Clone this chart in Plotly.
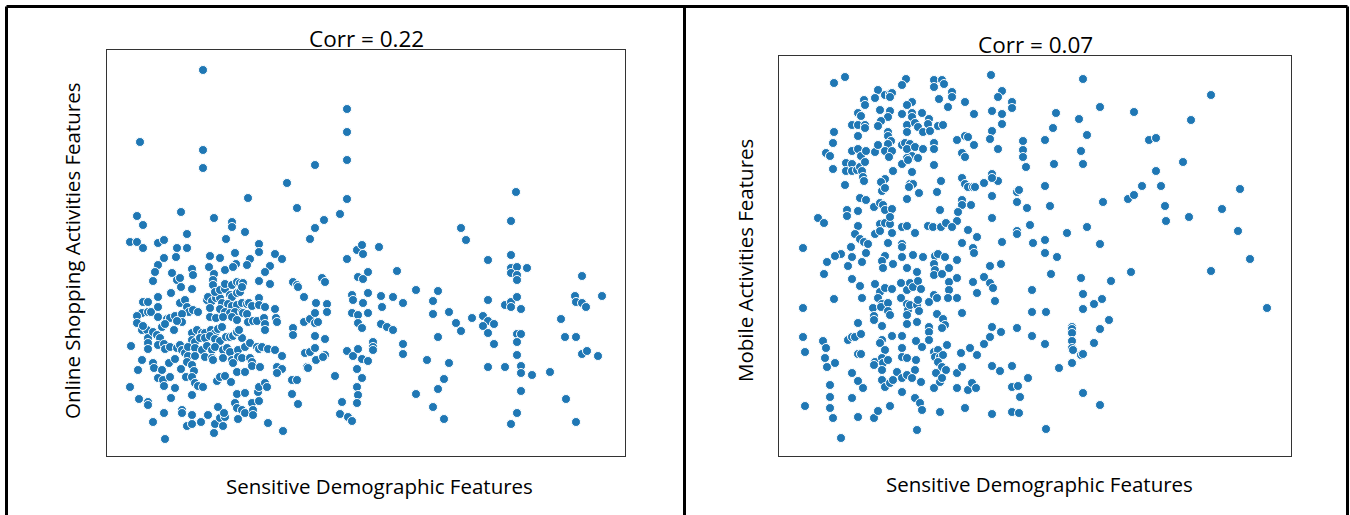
import plotly.graph_objects as go

# Panel 1: demographic score vs. online shopping activity score
shop_demo = [
    96, 240, 240, 33, 96, 208, 96, 240, 180, 141, 240, 190, 74, 30, 36, 107, 125, 125, 217, 233,
    208, 80, 138, 119, 203, 23, 30, 36, 51, 57, 70, 80, 152, 152, 128, 168, 250, 255, 256, 103,
    57, 69, 113, 143, 175, 240,
    409, 404, 354, 359, 272,
    51, 48, 46, 65, 70, 73, 85, 86, 129, 118, 126, 102, 107, 106, 106, 140, 163, 158, 152, 163,
    186, 190, 191, 197, 215, 218, 251, 256,
    64, 51, 36, 41, 35, 41, 44, 30, 30, 51, 51, 60, 63, 68, 73, 78, 80, 82, 86, 91,
    75, 75, 70, 67, 85, 74, 100, 101, 105, 109, 113, 108, 113, 118, 118, 125, 130, 133, 136, 123,
    125, 130, 133, 135, 115, 121, 125, 130, 135, 140, 142, 145, 103, 113, 118, 123, 128, 135, 136, 140,
    103, 109, 116, 125, 130, 141, 146, 150, 152, 152, 158, 168, 157, 158, 158, 169, 170,
    24, 35, 40, 36, 41, 41, 41, 46, 50, 55, 58, 53, 51, 57, 58, 63, 70, 73, 75, 78,
    81, 85, 90, 95, 98, 104, 108, 111, 115, 85, 88, 93, 98, 103, 108, 113, 119, 123, 126, 130,
    135, 130, 132, 81, 88, 95, 100, 105, 108, 116, 120, 123, 131, 138, 143, 150, 152, 155, 161, 168,
    88, 98, 105, 106, 116, 125, 131, 135, 143, 145, 175,
    186, 186, 197, 203, 208, 211, 209, 208, 220, 220, 208, 218, 198, 203, 208, 209, 200, 201, 218, 216,
    245, 246, 245, 251, 251, 255, 256, 240, 246, 251, 255,
    35, 46, 47, 31, 55, 62, 68, 74, 80, 85, 87, 51, 56, 63, 57, 68, 79, 85, 88, 91,
    96, 110, 113, 118, 124, 126, 130, 138, 145, 153, 170, 175, 170, 23, 32, 41, 41, 64, 57, 75,
    75, 85, 46, 58, 80, 85, 85, 94, 101, 108, 113, 118, 116, 107, 111, 117, 130, 138, 128, 130,
    135, 138, 145, 146, 146, 152, 131, 151, 152, 158, 160, 161, 176, 185, 190, 185, 191, 228, 235, 233,
    241, 245, 250, 251, 250, 255, 250,
    381, 404, 404, 410, 420, 404, 410, 410, 475, 290, 261, 274, 286, 296, 275, 309, 331, 326, 326, 342,
    349, 354, 365, 376, 381, 387, 376, 381, 381, 398, 404, 404, 410, 414, 468, 469, 475, 479, 495, 454,
    274, 280, 286, 266, 266, 266, 261, 296, 296, 331, 342, 320, 337, 331, 309, 326, 337, 387, 381, 398,
    410, 414, 410, 410, 414, 414, 425, 414, 410, 404, 443, 458, 469, 475, 480, 491, 459, 469, 261, 261,
]
shop_score = [
    386, 347, 324, 314, 306, 291, 288, 296, 273, 258, 257, 248, 244, 240, 231, 238, 234, 229, 236, 242,
    228, 222, 224, 217, 217, 214, 214, 208, 213, 216, 208, 208, 212, 204, 203, 202, 206, 211, 202, 200,
    198, 199, 198, 197, 197, 197,
    264, 235, 228, 216, 209,
    191, 184, 175, 183, 176, 178, 187, 181, 192, 186, 189, 189, 182, 176, 171, 191, 190, 184, 175, 172,
    174, 171, 169, 159, 178, 174, 179, 177,
    163, 159, 154, 154, 143, 144, 144, 140, 133, 149, 139, 137, 138, 140, 153, 156, 149, 144, 146, 144,
    142, 134, 135, 126, 167, 169, 156, 159, 155, 158, 158, 164, 166, 167, 172, 171, 174, 173, 173, 161,
    159, 163, 164, 169, 153, 152, 150, 151, 153, 152, 153, 150, 148, 147, 144, 143, 144, 144, 143, 142,
    139, 138, 139, 139, 136, 134, 135, 135, 158, 151, 149, 147, 138, 132, 126, 138, 134,
    110, 126, 126, 130, 118, 113, 107, 124, 121, 129, 132, 118, 111, 112, 107, 109, 108, 111, 106, 103,
    100, 123, 126, 123, 123, 126, 123, 127, 129, 116, 114, 118, 118, 120, 117, 115, 119, 119, 120, 123,
    118, 124, 126, 109, 108, 106, 110, 106, 109, 106, 108, 104, 106, 109, 113, 109, 107, 109, 107, 106,
    100, 99, 98, 96, 98, 96, 99, 98, 98, 94, 100,
    128, 121, 134, 137, 133, 134, 153, 143, 152, 144, 120, 117, 103, 104, 108, 96, 89, 88, 101, 99,
    161, 156, 143, 141, 133, 128, 153, 105, 100, 107, 97,
    96, 93, 88, 86, 86, 93, 97, 87, 94, 91, 85, 78, 76, 79, 70, 68, 79, 79, 73, 70,
    69, 75, 79, 80, 74, 93, 84, 84, 90, 89, 89, 87, 83, 69, 57, 54, 51, 58, 43, 46,
    43, 61, 34, 17, 30, 32, 41, 34, 41, 32, 38, 39, 30, 23, 49, 43, 62, 63, 53, 48,
    46, 43, 53, 46, 41, 55, 37, 64, 69, 73, 69, 33, 25, 76, 76, 62, 52, 80, 54, 42,
    39, 35, 69, 61, 53, 78, 87,
    196, 201, 188, 189, 188, 183, 181, 176, 180, 185, 184, 160, 159, 153, 149, 166, 165, 155, 142, 144,
    133, 125, 138, 140, 135, 132, 130, 123, 156, 151, 154, 149, 159, 147, 160, 154, 153, 149, 160, 137,
    132, 129, 126, 114, 109, 106, 95, 112, 102, 119, 93, 96, 77, 67, 62, 49, 37, 112, 89, 89,
    122, 122, 114, 101, 90, 83, 81, 65, 43, 32, 84, 119, 119, 102, 105, 100, 57, 34, 163, 143,
]

# Panel 2: demographic score vs. mobile activity score
mobile_demo = [
    55, 66, 127, 123, 155, 163, 155, 165, 212, 223, 219, 233, 233, 99, 96, 106, 111, 113, 111, 85,
    86, 133, 128, 160, 173, 173, 169, 186, 101, 111, 109, 123, 133, 133, 143, 150, 149, 195, 213, 223,
    223, 79, 82, 73, 79, 86, 86, 102, 99, 128, 128, 136, 139, 144, 151, 159, 164, 109, 109, 112,
    109, 55, 54, 79, 47, 51, 73, 79, 82, 87, 96, 99, 106, 113, 110, 123, 126, 131, 128, 136,
    144, 133, 139, 128, 155, 155, 178, 186, 189, 195, 183, 186, 213, 211, 219, 244, 244, 244, 247, 67,
    73, 67, 73, 78, 81, 83, 86, 84, 85, 54, 123, 129, 133, 114, 155, 66, 106, 102, 103, 106,
    131, 134, 130, 140, 128, 158, 162, 183, 186, 189, 194, 196, 205, 213, 219, 213, 213, 238, 240, 238,
    248, 251, 81, 87, 95, 101, 104, 106, 113, 68, 68, 79, 39, 45, 183, 183, 192, 161, 179, 178,
    213, 79, 101, 106, 111, 111, 123, 128, 149, 154, 162, 167, 173, 189, 76, 96, 101, 113, 136, 81,
    85, 89, 109, 123, 123, 183, 194, 198, 223, 238, 238, 24, 72, 62, 56, 73, 87, 106, 123, 134,
    144, 156, 159, 166, 195, 254,
    304, 432, 321, 355, 277, 300, 412, 274, 308, 266, 370, 377, 302, 275, 304, 404, 377, 266, 363, 382,
    461, 349, 355, 324, 271, 386, 443, 387, 410, 459, 308, 288, 321, 266, 266, 278, 471,
    48, 83, 69, 103, 104, 114, 128, 138, 155, 156, 170, 178, 211, 222, 45, 73, 81, 83, 55, 96,
    101, 106, 113, 99, 103, 94, 102, 109, 109, 111, 95, 95, 103, 122, 128, 131, 134, 139, 142, 122,
    128, 129, 128, 128, 131, 138, 139, 140, 138, 137, 143, 150, 155, 158, 158, 150, 150, 150, 164, 166,
    163, 168, 155, 159, 156, 161, 164, 159, 163, 167, 157, 155, 163, 170, 170, 169, 178, 178, 183, 194,
    198, 205, 211, 214, 216, 24, 24, 26, 26, 44, 47, 46, 48, 56, 51, 51, 51, 54, 62, 79,
    69, 73, 76, 82, 79, 82, 73, 79, 84, 73, 79, 103, 101, 106, 96, 95, 103, 104, 109, 103,
    103, 106, 111, 114, 118, 95, 99, 111, 113, 123, 123, 123, 128, 137, 136, 123, 128, 133, 142, 123,
    136, 141, 143, 138, 155, 161, 163, 178, 183, 182, 191, 198, 205, 211, 213, 222, 238, 178, 189, 193,
    197, 186, 161, 213, 221, 233, 249, 233, 239, 241, 233, 240, 213, 253, 253, 253,
    272, 302, 332, 352, 432, 304, 315, 323, 304, 267, 488, 330, 321, 315, 293, 293, 293, 293, 293, 294,
    302, 304, 293, 280, 266, 304, 321, 267,
]
mobile_score = [
    373, 379, 377, 371, 376, 376, 369, 372, 381, 365, 359, 354, 348, 366, 358, 361, 362, 363, 359, 356,
    351, 354, 351, 357, 364, 359, 349, 354, 346, 345, 339, 342, 343, 339, 343, 337, 332, 342, 345, 342,
    332, 343, 340, 331, 331, 331, 328, 335, 330, 331, 324, 333, 329, 324, 325, 330, 331, 324, 320, 315,
    312, 324, 313, 320, 303, 300, 305, 307, 300, 305, 304, 311, 305, 305, 299, 311, 313, 312, 307, 309,
    307, 300, 298, 298, 313, 307, 316, 320, 319, 311, 303, 299, 325, 317, 307, 315, 306, 299, 289, 293,
    292, 285, 285, 286, 289, 285, 294, 279, 275, 287, 292, 296, 284, 285, 291, 271, 277, 274, 265, 268,
    272, 272, 269, 263, 257, 264, 275, 278, 272, 269, 269, 269, 273, 282, 275, 278, 260, 264, 266, 254,
    248, 231, 258, 256, 249, 253, 251, 246, 247, 246, 240, 245, 238, 233, 256, 251, 251, 246, 244, 235,
    238, 230, 232, 233, 232, 239, 229, 230, 230, 229, 229, 233, 229, 226, 222, 222, 225, 223, 223, 217,
    214, 212, 213, 212, 209, 213, 208, 219, 214, 225, 222, 208, 209, 202, 200, 199, 203, 200, 199, 201,
    199, 200, 202, 199, 203, 213,
    377, 361, 349, 344, 343, 337, 336, 328, 321, 316, 316, 318, 305, 292, 292, 294, 285, 270, 270, 270,
    267, 257, 261, 254, 250, 250, 247, 235, 239, 225, 229, 223, 212, 216, 203, 199, 197,
    194, 194, 190, 195, 188, 192, 188, 184, 192, 186, 188, 196, 190, 192, 182, 177, 170, 158, 157, 172,
    164, 168, 167, 158, 152, 148, 149, 153, 145, 141, 140, 136, 130, 173, 166, 173, 169, 175, 167, 158,
    152, 146, 141, 132, 151, 151, 156, 145, 134, 115, 109, 154, 161, 158, 142, 129, 124, 116, 137, 131,
    128, 111, 104, 106, 99, 99, 101, 94, 89, 86, 83, 181, 182, 174, 166, 158, 178, 158, 143, 174,
    163, 179, 173, 168, 155, 148, 119, 104, 50, 115, 108, 98, 89, 93, 71, 59, 48, 38, 18, 133,
    116, 119, 119, 122, 102, 102, 83, 75, 68, 58, 39, 116, 113, 106, 94, 91, 98, 93, 96, 86,
    76, 69, 73, 76, 84, 38, 45, 50, 120, 120, 108, 99, 98, 96, 86, 78, 81, 78, 74, 64,
    58, 53, 46, 26, 68, 74, 78, 83, 89, 103, 108, 101, 112, 119, 129, 124, 128, 68, 66, 73,
    68, 48, 44, 90, 85, 90, 78, 69, 70, 59, 44, 43, 42, 166, 144, 120,
    182, 178, 175, 184, 185, 162, 152, 157, 147, 144, 148, 136, 127, 113, 129, 127, 123, 115, 108, 106,
    101, 102, 93, 88, 112, 63, 51, 27,
]

assert len(shop_demo) == len(shop_score), (len(shop_demo), len(shop_score))
assert len(mobile_demo) == len(mobile_score), (len(mobile_demo), len(mobile_score))

titles = ["Corr = 0.22", "Corr = 0.07"]
x_label = "Sensitive Demographic Features"
y_labels = ["Online Shopping Activities Features", "Mobile Activities Features"]

W, H = 1350, 515
BLUE = "#1f77b4"
FONT = "Open Sans, DejaVu Sans, sans-serif"
TITLE_SIZE = 22.5
LABEL_SIZE = 20.5


def px(x):
    return x / W


def py(y):
    return 1 - y / H


marker = dict(color=BLUE, size=9, line=dict(color="white", width=1))

fig = go.Figure()
fig.add_trace(go.Scatter(x=shop_demo, y=shop_score, mode="markers", marker=marker,
                         xaxis="x", yaxis="y", showlegend=False, hoverinfo="skip"))
fig.add_trace(go.Scatter(x=mobile_demo, y=mobile_score, mode="markers", marker=marker,
                         xaxis="x2", yaxis="y2", showlegend=False, hoverinfo="skip"))

axis_style = dict(showticklabels=False, ticks="", showgrid=False, zeroline=False,
                  showline=True, mirror=True, linecolor="#333333", linewidth=1.3,
                  fixedrange=True)

fig.update_layout(
    width=W, height=H,
    margin=dict(l=0, r=0, t=0, b=0),
    paper_bgcolor="white", plot_bgcolor="white",
    xaxis=dict(domain=[px(107), px(625)], range=[0, 518], anchor="y", **axis_style),
    yaxis=dict(domain=[py(456), py(50)], range=[0, 406], anchor="x", **axis_style),
    xaxis2=dict(domain=[px(779), px(1291)], range=[0, 512], anchor="y2", **axis_style),
    yaxis2=dict(domain=[py(456), py(56)], range=[0, 400], anchor="x2", **axis_style),
    font=dict(family=FONT, color="black"),
)

# Titles and axis captions
text_items = [
    (titles[0], 366, 39, 0, TITLE_SIZE),
    (titles[1], 1035, 45, 0, TITLE_SIZE),
    (x_label, 379, 486, 0, LABEL_SIZE),
    (x_label, 1039, 484, 0, LABEL_SIZE),
    (y_labels[0], 72, 251, -90, LABEL_SIZE),
    (y_labels[1], 745, 261, -90, LABEL_SIZE),
]
for text, x, y, angle, size in text_items:
    fig.add_annotation(text=text, x=px(x), y=py(y), xref="paper", yref="paper",
                       showarrow=False, xanchor="center", yanchor="middle",
                       textangle=angle, font=dict(size=size, family=FONT, color="black"))

# Outer frame around the two panels
frame = [
    (6.5, 6.5, 1347.5, 6.5),
    (6.5, 6.5, 6.5, 515),
    (684.5, 6.5, 684.5, 515),
    (1347.5, 6.5, 1347.5, 515),
]
for x0, y0, x1, y1 in frame:
    fig.add_shape(type="line", xref="paper", yref="paper",
                  x0=px(x0), y0=py(y0), x1=px(x1), y1=py(y1),
                  line=dict(color="black", width=3))

fig.write_html("out.html")
